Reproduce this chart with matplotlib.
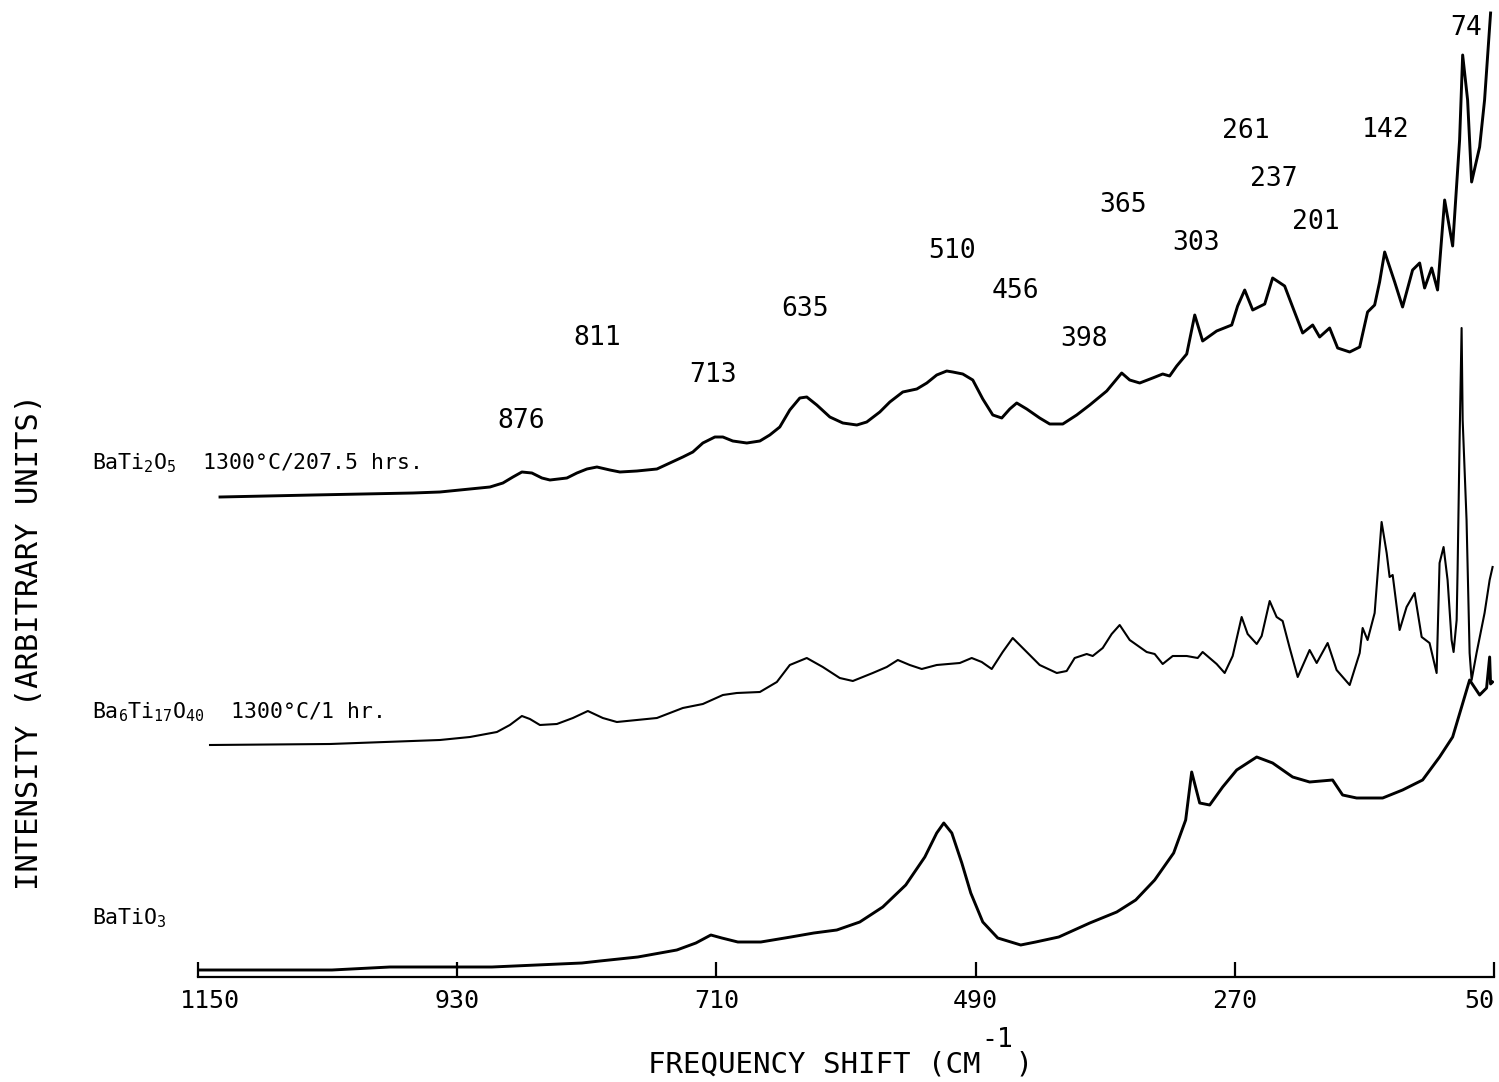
import matplotlib
matplotlib.use("Agg")
import matplotlib.pyplot as plt
import matplotlib.transforms as mtransforms

# Raman spectra, frequency shift (cm^-1) and intensity (arbitrary units, offset per trace)
bati2o5_shift = [1131.3, 1052.4, 967.6, 944.7, 919.2, 902.2, 891.2, 882.7, 875.1, 866.6,
                 858.1, 851.3, 836.9, 828.4, 819.9, 811.4, 800.4, 791.9, 777.5, 760.5,
                 749.5, 738.5, 730.0, 721.5, 711.3, 704.5, 696.1, 684.2, 673.1, 664.7,
                 656.2, 647.7, 639.2, 633.3, 624.8, 613.7, 602.7, 590.8, 582.4, 571.3,
                 562.8, 551.8, 539.9, 531.4, 523.0, 514.5, 509.4, 500.9, 492.4, 483.9,
                 475.4, 467.8, 461.0, 455.1, 446.6, 435.6, 427.1, 416.0, 404.2, 393.1,
                 378.7, 366.0, 359.2, 350.7, 339.7, 331.2, 325.3, 319.3, 310.8, 304.0,
                 297.3, 285.4, 272.6, 267.6, 261.6, 254.8, 244.6, 237.9, 227.7, 220.9,
                 212.4, 203.9, 198.0, 189.5, 182.7, 172.5, 164.0, 157.3, 151.3, 147.1,
                 142.8, 134.3, 127.6, 119.1, 113.1, 108.9, 102.9, 97.9, 91.9, 85.1,
                 79.2, 76.6, 72.4, 69.0, 62.2, 58.0, 52.9]
bati2o5_int = [48.0, 48.2, 48.4, 48.5, 48.8, 49.0, 49.4, 50.0, 50.5, 50.4,
               49.9, 49.7, 49.9, 50.4, 50.8, 51.0, 50.7, 50.5, 50.6, 50.8,
               51.4, 52.0, 52.5, 53.4, 54.0, 54.0, 53.6, 53.4, 53.6, 54.2,
               55.0, 56.7, 57.9, 58.0, 57.2, 56.0, 55.4, 55.2, 55.5, 56.5,
               57.5, 58.5, 58.8, 59.4, 60.2, 60.6, 60.5, 60.3, 59.7, 57.8,
               56.2, 55.9, 56.8, 57.4, 56.8, 55.9, 55.3, 55.3, 56.2, 57.2,
               58.6, 60.4, 59.7, 59.4, 59.9, 60.3, 60.1, 61.1, 62.3, 66.2,
               63.6, 64.6, 65.2, 67.1, 68.7, 66.7, 67.3, 69.9, 69.1, 67.0,
               64.4, 65.2, 64.0, 64.9, 62.9, 62.5, 63.0, 66.5, 67.2, 69.5,
               72.5, 69.5, 67.0, 70.7, 71.4, 68.9, 70.9, 68.7, 77.7, 73.1,
               83.7, 92.2, 87.7, 79.5, 83.0, 87.7, 96.4]

ba6ti17o40_shift = [1139.8, 1038.0, 944.7, 919.2, 896.3, 885.3, 875.1, 868.3, 859.8, 845.4,
                    831.8, 819.1, 806.4, 794.5, 777.5, 760.5, 738.5, 721.5, 704.5, 692.7,
                    673.1, 658.7, 647.7, 633.3, 619.7, 605.3, 594.2, 577.3, 565.4, 556.0,
                    545.9, 535.7, 523.0, 503.4, 493.3, 484.8, 476.3, 467.0, 458.5, 446.6,
                    435.6, 421.1, 412.7, 405.9, 395.7, 390.6, 382.1, 374.5, 367.7, 359.2,
                    344.8, 338.0, 331.2, 322.7, 310.8, 301.5, 297.3, 285.4, 278.6, 271.8,
                    264.2, 259.1, 251.4, 247.2, 240.4, 234.5, 229.4, 223.4, 216.6, 206.5,
                    200.5, 191.2, 183.6, 172.5, 164.0, 161.5, 157.3, 151.3, 145.4, 141.1,
                    138.6, 136.0, 130.1, 124.2, 117.4, 111.4, 104.7, 98.7, 96.2, 92.8,
                    89.4, 86.0, 84.3, 81.7, 80.9, 79.2, 77.5, 76.6, 73.3, 70.7,
                    69.0, 64.8, 58.0, 53.7, 51.2]
ba6ti17o40_int = [23.2, 23.3, 23.7, 24.0, 24.5, 25.2, 26.1, 25.8, 25.2, 25.3,
                  25.9, 26.6, 25.9, 25.5, 25.7, 25.9, 26.9, 27.3, 28.2, 28.4,
                  28.5, 29.5, 31.2, 31.9, 31.0, 29.9, 29.6, 30.4, 31.0, 31.7,
                  31.2, 30.8, 31.2, 31.4, 31.9, 31.5, 30.8, 32.5, 33.9, 32.5,
                  31.2, 30.4, 30.6, 31.9, 32.3, 32.1, 32.9, 34.3, 35.2, 33.7,
                  32.5, 32.3, 31.3, 32.1, 32.1, 31.9, 32.5, 31.3, 30.4, 32.1,
                  36.0, 34.3, 33.3, 34.1, 37.6, 36.0, 35.6, 32.9, 30.0, 32.7,
                  31.4, 33.4, 30.7, 29.2, 32.4, 34.9, 33.7, 36.4, 45.5, 42.4,
                  40.0, 40.2, 34.7, 37.0, 38.4, 34.0, 33.4, 30.4, 41.4, 43.0,
                  39.7, 33.7, 32.5, 35.7, 40.7, 53.7, 64.9, 55.7, 45.7, 32.4,
                  29.7, 32.4, 36.4, 39.7, 41.0]

batio3_shift = [1150.0, 1036.3, 987.1, 930.2, 900.5, 862.4, 824.2, 808.9, 776.7, 743.6,
                727.4, 714.7, 705.4, 691.8, 672.3, 646.8, 627.3, 607.8, 588.3, 568.8,
                549.3, 533.1, 523.0, 517.0, 510.2, 501.7, 494.1, 483.9, 471.2, 451.7,
                439.0, 419.4, 393.1, 370.2, 354.1, 338.0, 321.9, 311.7, 306.6, 299.8,
                291.3, 280.3, 268.4, 251.4, 237.9, 220.9, 206.5, 187.0, 178.5, 166.6,
                144.5, 127.6, 110.6, 96.2, 85.1, 77.5, 70.7, 62.2, 56.3, 53.7,
                52.9, 51.2]
batio3_int = [0.7, 0.7, 1.0, 1.0, 1.0, 1.2, 1.4, 1.6, 2.0, 2.7,
              3.4, 4.2, 3.9, 3.5, 3.5, 4.0, 4.4, 4.7, 5.5, 7.0,
              9.2, 12.0, 14.4, 15.4, 14.4, 11.4, 8.4, 5.5, 3.9, 3.2,
              3.5, 4.0, 5.4, 6.5, 7.7, 9.7, 12.4, 15.7, 20.5, 17.4,
              17.2, 19.0, 20.7, 22.0, 21.4, 20.0, 19.5, 19.7, 18.2, 17.9,
              17.9, 18.7, 19.7, 22.0, 24.0, 27.0, 29.7, 28.2, 28.9, 32.0,
              29.3, 29.5]

# Band positions marked on the BaTi2O5 trace and the heights of their labels
band_labels = [876, 811, 713, 635, 510, 456, 398, 365, 303, 261, 237, 201, 142, 74]
band_label_heights = [55.6, 63.9, 60.2, 66.8, 72.6, 68.6, 63.8, 77.2, 73.4, 84.6,
                      79.8, 75.5, 84.7, 94.9]

tick_values = [1150, 930, 710, 490, 270, 50]
tick_labels = ["1150", "930", "710", "490", "270", "50"]

plt.rcParams["font.family"] = ["DejaVu Sans Mono", "DejaVu Sans"]
plt.rcParams["mathtext.fontset"] = "custom"
plt.rcParams["mathtext.rm"] = "DejaVu Sans Mono"
plt.rcParams["mathtext.it"] = "DejaVu Sans Mono"
plt.rcParams["mathtext.bf"] = "DejaVu Sans Mono:bold"

fig = plt.figure(figsize=(14.99, 10.82), dpi=100)
fig.patch.set_facecolor("white")
ax = fig.add_axes([198 / 1499, 105 / 1082, 1296 / 1499, 977 / 1082])
ax.set_xlim(1150, 50)
ax.set_ylim(0, 97.7)

ax.plot(bati2o5_shift, bati2o5_int, color="black", lw=2.1, zorder=3)
ax.plot(ba6ti17o40_shift, ba6ti17o40_int, color="black", lw=1.5, zorder=3)
ax.plot(batio3_shift, batio3_int, color="black", lw=2.1, zorder=3)

for wn, h in zip(band_labels, band_label_heights):
    ax.text(wn, h, str(wn), ha="center", va="center", fontsize=19,
            color="black", zorder=1, clip_on=False)

for side in ["top", "left", "right"]:
    ax.spines[side].set_visible(False)
ax.spines["bottom"].set_linewidth(1.6)
ax.set_yticks([])
ax.set_xticks(tick_values)
ax.set_xticklabels(tick_labels)
ax.tick_params(axis="x", direction="in", length=11, width=1.6, pad=9, labelsize=18)

# Keep the end labels inside the figure: nudge the first right, right-align the last
xlabels = ax.get_xticklabels()
xlabels[0].set_transform(xlabels[0].get_transform()
                         + mtransforms.ScaledTranslation(0.12, 0, fig.dpi_scale_trans))
xlabels[-1].set_horizontalalignment("right")

# Trace labels on the left
fig.text(92 / 1499, 1 - 463 / 1082, r"BaTi$_2$O$_5$  1300°C/207.5 hrs.",
         fontsize=15.5, ha="left", va="center")
fig.text(92 / 1499, 1 - 712 / 1082, r"Ba$_6$Ti$_{17}$O$_{40}$  1300°C/1 hr.",
         fontsize=15.5, ha="left", va="center")
fig.text(92 / 1499, 1 - 918 / 1082, r"BaTiO$_3$",
         fontsize=15.5, ha="left", va="center")

# Axis titles
fig.text(30 / 1499, 1 - 642 / 1082, "INTENSITY (ARBITRARY UNITS)", rotation=90,
         fontsize=22, ha="center", va="center")
fig.text(840 / 1499, 1 - 1065 / 1082, "FREQUENCY SHIFT (CM  )",
         fontsize=21, ha="center", va="center")
fig.text(997 / 1499, 1 - 1040 / 1082, "-1", fontsize=19, ha="center", va="center")

fig.savefig("out.png", dpi=100, facecolor="white")
